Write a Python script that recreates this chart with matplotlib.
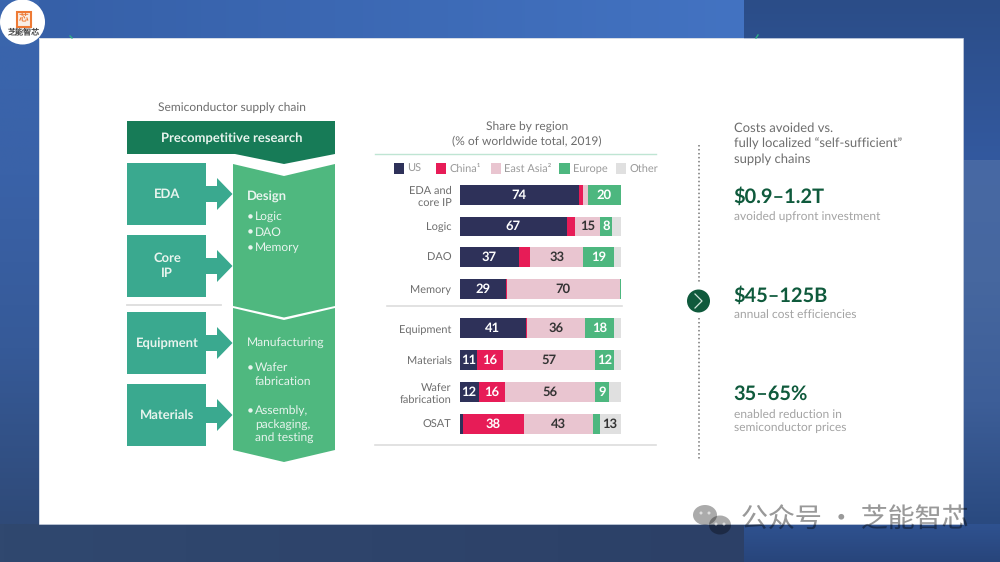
import numpy as np
import matplotlib
matplotlib.use("Agg")
import matplotlib.pyplot as plt
from matplotlib.patches import Polygon, Rectangle, Circle, Ellipse
from matplotlib.colors import LinearSegmentedColormap

plt.rcParams['font.family'] = ['Lato', 'DejaVu Sans']
plt.rcParams['text.hinting'] = 'no_hinting'
plt.rcParams['text.hinting_factor'] = 1

# ---------- data ----------
categories = ["EDA and\ncore IP", "Logic", "DAO", "Memory", "Equipment", "Materials", "Wafer\nfabrication", "OSAT"]
regions = ["US", "China¹", "East Asia²", "Europe", "Other"]
us = [74, 67, 37, 29, 41, 11, 12, 2]
china = [3, 5, 7, 0.5, 1, 16, 16, 38]
east_asia = [3, 15, 33, 70, 36, 57, 56, 43]
europe = [20, 8, 19, 0.5, 18, 12, 9, 4]
other = [0, 5, 4, 0, 4, 4, 7, 13]
labels_us = ["74", "67", "37", "29", "41", "11", "12", ""]
labels_china = ["", "", "", "", "", "16", "16", "38"]
labels_ea = ["", "15", "33", "70", "36", "57", "56", "43"]
labels_eu = ["20", "8", "19", "", "18", "12", "9", ""]
labels_other = ["", "", "", "", "", "", "", "13"]

chain_title = "Semiconductor supply chain"
chart_title = "Share by region\n(% of worldwide total, 2019)"
cost_title = "Costs avoided vs.\nfully localized “self-sufficient”\nsupply chains"
metrics = ["$0.9–1.2T", "$45–125B", "35–65%"]
metric_notes = ["avoided upfront investment", "annual cost efficiencies", "enabled reduction in\nsemiconductor prices"]

# ---------- styles ----------
W, H = 1000, 562
NAVY, RED, PINK, GREEN, GREY = "#2e3159", "#e71c57", "#e9c5d0", "#4db77f", "#e0e0e0"
colors = [NAVY, RED, PINK, GREEN, GREY]
TEAL, LGREEN, DGREEN, TXT = "#3aa98f", "#4fb87f", "#177b57", "#6d6d6d"
LIGHT = "#e8f4ee"

fig = plt.figure(figsize=(W / 100, H / 100), dpi=100)
bg = fig.add_axes([0, 0, 1, 1])
bg.axis("off")

def grad(x0, y0, x1, y1, stops, horizontal=False, z=1):
    cm = LinearSegmentedColormap.from_list("g", stops)
    a = np.linspace(0, 1, 200)
    a = a[None, :] if horizontal else a[:, None]
    bg.imshow(a, extent=[x0, x1, y1, y0], cmap=cm, aspect="auto", zorder=z, vmin=0, vmax=1)

# background panels
grad(0, 0, 39, 524, ["#3a66ae", "#3a62a8", "#365a98", "#2f4a78"])
grad(39, 0, 744, 38, ["#3660a8", "#4373c2"], horizontal=True)
grad(744, 0, 1000, 160, ["#2b4d88", "#33599f"])
grad(963, 160, 1000, 524, ["#4869a4", "#46679f", "#3d5e98", "#2a4a80"])
grad(0, 524, 744, 562, ["#30486f", "#2c4067"], horizontal=True)
grad(744, 524, 1000, 562, ["#2f5290", "#28457b"])
bg.set_xlim(0, W); bg.set_ylim(H, 0)
bg.add_patch(Rectangle((39, 38), 924, 486, fc="white", ec="#c4cddd", lw=0.5, zorder=3))

def poly(pts, c, z=4):
    bg.add_patch(Polygon(pts, closed=True, fc=c, ec="none", zorder=z))

def txt(x, y, s, c=TXT, size=8.6, weight="normal", ha="left", va="center", ls=1.2, **k):
    bg.text(x, y + 1, s, color=c, fontsize=size, fontweight=weight, ha=ha, va=va, linespacing=ls, zorder=6, **k)

# remnants of the cropped title at the panel's top edge
bg.plot([70, 72], [36, 38], color="#2fb088", lw=1, zorder=4)
bg.plot([756, 758], [38, 35], color="#2fb088", lw=1, zorder=4)

# logo
bg.add_patch(Circle((22.5, 22), 22.5, fc="white", ec="none", zorder=5))
bg.add_patch(Rectangle((16.5, 11.5), 14, 15, fc="#f9efe6", ec="#ee7a35", lw=1.5, zorder=6))
bg.text(23.5, 19, "芯", color="#ee7a35", fontsize=7, ha="center", va="center", zorder=7, family=["Noto Sans CJK SC"])
bg.text(24, 32, "芝能智芯", color="#444444", fontsize=5.8, ha="center", va="center", zorder=7, family=["Noto Sans CJK SC"])

# supply chain diagram
txt(232, 107, chain_title, ha="center")
poly([(127, 121), (335, 121), (335, 154), (284, 164), (235, 154), (127, 154)], DGREEN)
txt(232, 137, "Precompetitive research", c=LIGHT, size=9.1, weight="bold", ha="center")
poly([(233, 164), (284, 176), (335, 164), (335, 306), (284, 317.5), (233, 306)], LGREEN)
poly([(233, 308), (284, 320), (335, 308), (335, 450), (284, 462), (233, 450)], LGREEN)
bg.plot([127, 221], [304.7, 304.7], color="#dddddd", lw=1.3, zorder=4)
boxes = [(163, 225, 194, "EDA"), (235, 297, 266, "Core\nIP"), (312, 374, 343, "Equipment"), (384, 446, 415, "Materials")]
for top, bot, mid, name in boxes:
    poly([(127, top), (206, top), (206, bot), (127, bot)], TEAL)
    poly([(205, mid - 8), (217, mid - 8), (217, mid - 16), (232.5, mid), (217, mid + 16), (217, mid + 8), (205, mid + 8)], TEAL)
    txt(167, mid - 1 if name != "Core\nIP" else 265, name, c=LIGHT, size=9.3, weight="bold", ha="center", ls=1.3)
txt(247, 195, "Design", c=LIGHT, size=9.1, weight="bold")
for y, s in zip([215.7, 231.3, 246.7], ["Logic", "DAO", "Memory"]):
    txt(247, y, "•", c=LIGHT)
    txt(255, y, s, c=LIGHT, size=8.8)
txt(246.5, 342, "Manufacturing", c=LIGHT, size=8.8)
for y, s, b in [(367, "Wafer", True), (381, "fabrication", False), (410, "Assembly,", True),
                (424, "packaging,", False), (437, "and testing", False)]:
    if b:
        txt(247, y, "•", c=LIGHT)
    txt(255, y, s, c=LIGHT, size=8.8)

# chart heading, rules, legend
txt(527, 133.5, chart_title, ha="center", ls=1.33)
bg.plot([375, 656], [154, 154], color="#bfe5d3", lw=1, zorder=5)
bg.plot([387, 622], [305.5, 305.5], color="#dddddd", lw=1.2, zorder=5)
bg.plot([375, 656], [445, 445], color="#dddddd", lw=1.2, zorder=5)
for x, s, c in zip([393.5, 435.5, 490.5, 559, 615.5], regions, colors):
    bg.add_patch(Rectangle((x, 163), 10.5, 10.5, fc=c, ec="none", zorder=5))
    bg.text(x + 14, 172, s, color="#9a9a9a", fontsize=8, va="baseline", zorder=6)

# stacked bars
ax = fig.add_axes([459.5 / W, 1 - 440 / H, 161 / W, 260 / H])
ax.set_facecolor("none")
ax.set_xlim(0, 100); ax.set_ylim(440, 180)
ypos = [195, 226, 257, 289, 328, 360, 392, 424]
heights = [20, 19, 20, 20, 20, 20, 20, 20]
left = np.zeros(len(categories))
for vals, labs, c, lc in zip([us, china, east_asia, europe, other],
                             [labels_us, labels_china, labels_ea, labels_eu, labels_other],
                             colors, ["white", "white", "#333333", "white", "#333333"]):
    bars = ax.barh(ypos, vals, left=left, height=heights, color=c, linewidth=0)
    ax.bar_label(bars, labels=labs, label_type="center", color=lc, fontsize=9, fontweight="bold")
    left += np.array(vals)
ax.set_yticks(ypos, categories, fontsize=7.8, color=TXT, linespacing=1.25)
ax.set_xticks([])
ax.tick_params(axis="y", length=0, pad=5.8)
for s in ax.spines.values():
    s.set_visible(False)

# right-hand panel
bg.plot([698.5, 698.5], [145, 283], color="#777777", lw=1.1, ls=(0, (1, 1.6)), zorder=5)
bg.plot([698.5, 698.5], [318, 460], color="#777777", lw=1.1, ls=(0, (1, 1.6)), zorder=5)
bg.add_patch(Circle((698.5, 301), 11.5, fc="#0f5a3c", ec="none", zorder=5))
bg.plot([695, 702, 695], [294, 301, 308], color="#cfe5da", lw=0.9, zorder=6)
txt(734, 142.5, cost_title, size=9.4, ls=1.38)
for y, m in zip([196, 295, 393.5], metrics):
    txt(733.5, y, m, c="#0f5a3c", size=14.2, weight="bold")
for y, n in zip([215.7, 314, 420], metric_notes):
    txt(734, y, n, c="#a3a3a3", size=8.3, ls=1.3)

# watermark
for x, y, rx, ry in [(705, 515, 12, 10), (720, 525, 11, 9.5)]:
    bg.add_patch(Ellipse((x, y), rx * 2, ry * 2, fc="black", ec="none", alpha=0.33, zorder=7))
for x, y in [(701, 513), (709, 513), (716, 524), (724, 524)]:
    bg.add_patch(Circle((x, y), 1.5, fc="white", ec="none", alpha=0.6, zorder=8))
bg.text(741, 520, "公众号 · 芝能智芯", color="black", fontsize=19.4, va="center", zorder=7,
        alpha=0.4, family=["Noto Sans CJK SC"])

fig.savefig("out.png", dpi=100)
